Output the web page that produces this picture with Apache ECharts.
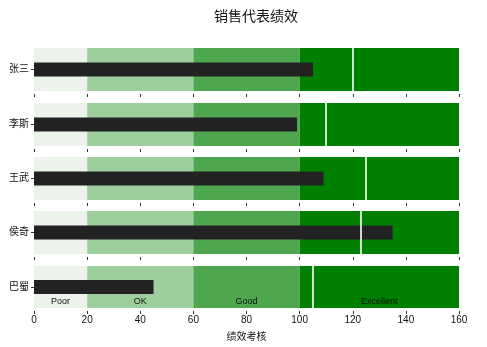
<!DOCTYPE html>
<html>
<head>
<meta charset="utf-8">
<script src="https://cdn.jsdelivr.net/npm/echarts@6/dist/echarts.min.js"></script>
<style>
  html, body { margin: 0; padding: 0; background: #fff; }
  #chart { width: 487px; height: 347px; }
</style>
</head>
<body>
<div id="chart"></div>
<script>
// Sales reps, their actual scores and their targets
const reps = ['张三', '李斯', '王武', '侯奇', '巴蜀'];
const actual = [105, 99, 109, 135, 45];
const targets = [120, 110, 125, 123, 105];

// Qualitative ranges shared by every row
const bandEdges = [0, 20, 60, 100, 160];
const bandNames = ['Poor', 'OK', 'Good', 'Excellent'];
const bandColors = ['#ebf3eb', '#9dcf9d', '#4ea64e', '#008000'];

const xTicks = [0, 20, 40, 60, 80, 100, 120, 140, 160];

const FONT = '"Liberation Sans", Arial, "Noto Sans CJK SC", sans-serif';
const rowTops = [48, 103, 157, 211, 266];
const rowHeight = 43;

const grids = [], xAxes = [], yAxes = [], series = [];

reps.forEach((name, i) => {
  const last = i === reps.length - 1;
  grids.push({ left: 34, right: 28, top: rowTops[i], height: last ? 42 : rowHeight });
  xAxes.push({
    gridIndex: i, type: 'value',
    min: xTicks[0], max: xTicks[xTicks.length - 1], interval: 20,
    offset: 3,
    axisLine: { show: false },
    axisTick: { show: true, length: 3, lineStyle: { color: '#333' } },
    splitLine: { show: false },
    axisLabel: { show: last, color: '#111', fontSize: 10, fontFamily: FONT, margin: 4 },
    name: last ? '绩效考核' : '',
    nameLocation: 'middle', nameGap: 21,
    nameTextStyle: { color: '#111', fontSize: 10, fontFamily: FONT }
  });
  yAxes.push({
    gridIndex: i, type: 'category', data: [name],
    axisLine: { show: false },
    axisTick: { show: true, length: 3, alignWithLabel: true, lineStyle: { color: '#333' } },
    axisLabel: { color: '#111', fontSize: 10, fontFamily: FONT, margin: 5 }
  });

  const areas = bandNames.map((b, k) => [
    {
      xAxis: bandEdges[k],
      itemStyle: { color: bandColors[k], opacity: 1 },
      label: last ? {
        show: true, formatter: b, position: 'insideBottom', distance: 2,
        color: '#111', fontSize: 9, fontFamily: FONT
      } : { show: false }
    },
    { xAxis: bandEdges[k + 1] }
  ]);

  series.push({
    type: 'bar',
    xAxisIndex: i, yAxisIndex: i,
    data: [actual[i]],
    barWidth: 14,
    itemStyle: { color: '#222222' },
    silent: true,
    markArea: { silent: true, data: areas },
    markLine: {
      silent: true, symbol: 'none',
      label: { show: false },
      lineStyle: { color: 'rgba(255,255,255,0.8)', width: 2, type: 'solid' },
      data: [{ xAxis: targets[i] }]
    }
  });
});

const chart = echarts.init(document.getElementById('chart'), null, { renderer: 'canvas' });
chart.setOption({
  animation: false,
  backgroundColor: '#ffffff',
  title: {
    text: '销售代表绩效',
    left: 251, top: 5, textAlign: 'center',
    textStyle: { color: '#111', fontSize: 14, fontWeight: 'normal', fontFamily: FONT }
  },
  grid: grids,
  xAxis: xAxes,
  yAxis: yAxes,
  series: series
});
</script>
</body>
</html>
